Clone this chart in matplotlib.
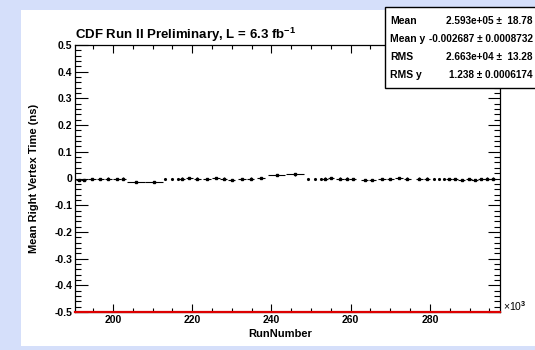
import matplotlib
matplotlib.use("Agg")
import matplotlib.pyplot as plt
from matplotlib.patches import Rectangle
from matplotlib.ticker import MultipleLocator

plt.rcParams['font.family'] = 'Liberation Sans'
plt.rcParams['font.weight'] = 'bold'
plt.rcParams['axes.unicode_minus'] = False
plt.rcParams['mathtext.fontset'] = 'custom'
plt.rcParams['mathtext.rm'] = 'Liberation Sans:bold'
plt.rcParams['mathtext.default'] = 'rm'

# run number in units of 1000, mean vertex time in ns, bin half width
run_k = [191.3, 192.6, 194.7, 196.8, 198.8, 201.0, 202.6, 205.8, 210.3,
         217.3, 219.3, 221.3, 223.8, 226.0, 228.0, 230.0, 232.5, 234.8,
         237.3, 241.3, 246.0, 253.5, 255.0, 257.3, 259.0, 260.5, 263.5,
         265.5, 268.0, 270.0, 272.3, 274.3, 277.3, 279.3, 284.8, 286.3,
         288.0, 289.8, 291.3, 293.0, 294.3, 296.0]
mean_ns = [-0.004, -0.005, -0.003, -0.002, 0.000, -0.003, 0.000, -0.012, -0.012,
           0.000, 0.002, 0.000, -0.002, 0.003, 0.000, -0.004, -0.003, 0.000,
           0.003, 0.012, 0.015, 0.000, 0.002, 0.000, 0.000, -0.003, -0.004,
           -0.004, -0.003, -0.002, 0.003, 0.000, 0.000, 0.000, -0.003, -0.002,
           -0.004, -0.003, -0.004, -0.003, 0.000, 0.000]
half_w = [0.7, 0.6, 0.9, 0.9, 0.9, 0.9, 0.6, 2.2, 2.2,
          0.8, 0.9, 0.9, 1.0, 0.9, 0.9, 0.9, 1.0, 0.9,
          1.0, 2.2, 2.3, 0.7, 0.7, 0.9, 0.6, 0.9, 1.0,
          0.9, 1.0, 0.9, 1.0, 0.9, 0.9, 0.8, 0.8, 0.8,
          0.8, 0.8, 0.8, 0.8, 0.7, 0.8]
y_err = [0.004] * len(run_k)

dot_run = [213.0, 214.8, 216.3, 249.3, 251.0, 252.5, 281.0, 282.3, 283.5]
dot_mean = [0.0, 0.0, 0.0, 0.0, 0.0, 0.0, 0.0, 0.0, 0.0]

stat_names = ["Mean", "Mean y", "RMS", "RMS y"]
stat_values = ["2.593e+05 \u00b1  18.78", "-0.002687 \u00b1 0.0008732",
               "2.663e+04 \u00b1  13.28", "1.238 \u00b1 0.0006174"]

W, H = 535, 350
fig = plt.figure(figsize=(W / 100, H / 100), dpi=100)
fig.patch.set_facecolor('#d5dffa')
fig.patches.append(Rectangle((21 / W, (H - 346) / H), 1, 336 / H,
                             transform=fig.transFigure, facecolor='white',
                             edgecolor='none', zorder=-1))

ax = fig.add_axes([75 / W, (H - 312) / H, 425 / W, 267 / H])
ax.errorbar(run_k, mean_ns, xerr=half_w, yerr=y_err, fmt='s', color='black',
            markersize=1.8, elinewidth=0.8, capsize=0)
ax.plot(dot_run, dot_mean, '.', color='black', markersize=2.5)

ax.set_xlim(190.4, 297.7)
ax.set_ylim(-0.5, 0.5)
ax.xaxis.set_major_locator(MultipleLocator(20))
ax.xaxis.set_minor_locator(MultipleLocator(5))
ax.yaxis.set_major_locator(MultipleLocator(0.1))
ax.yaxis.set_minor_locator(MultipleLocator(0.02))
ax.set_yticks([-0.5, -0.4, -0.3, -0.2, -0.1, 0, 0.1, 0.2, 0.3, 0.4, 0.5])
ax.set_yticklabels(["-0.5", "-0.4", "-0.3", "-0.2", "-0.1", "0",
                    "0.1", "0.2", "0.3", "0.4", "0.5"])
ax.tick_params(axis='both', which='both', direction='in', top=True, right=True,
               labelsize=7.5, width=0.8, pad=2)
ax.tick_params(axis='x', which='major', length=6)
ax.tick_params(axis='x', which='minor', length=3)
ax.tick_params(axis='y', which='major', length=9)
ax.tick_params(axis='y', which='minor', length=4.5)
for s in ax.spines.values():
    s.set_linewidth(0.9)

ax.axhline(-0.5, color='#dd0000', linewidth=1.6, clip_on=False, zorder=5)

ax.set_xlabel("RunNumber", fontsize=8, fontweight='bold', labelpad=1)
ax.xaxis.set_label_coords((280 - 75) / 425, -0.065)
ax.set_ylabel("Mean Right Vertex Time (ns)", fontsize=8, fontweight='bold')
ax.yaxis.set_label_coords(-(75 - 39) / 425, 0.5)

fig.text(75 / W, (H - 44) / H, r"CDF Run II Preliminary, L = 6.3 fb$^{-1}$",
         fontsize=9.5, fontweight='bold', ha='left', va='bottom')
fig.text(503 / W, (H - 306) / H, "\u00d710$^{3}$", fontsize=7.5,
         fontweight='normal', ha='left', va='center')

# stats box
fig.patches.append(Rectangle((385 / W, (H - 88) / H), 200 / W, 81 / H,
                             transform=fig.transFigure, facecolor='white',
                             edgecolor='black', linewidth=1.0, zorder=3))
row_y = [21, 39, 57, 75]
for name, val, yy in zip(stat_names, stat_values, row_y):
    fig.text(390 / W, (H - yy) / H, name, fontsize=7.5, fontweight='bold',
             ha='left', va='center', zorder=4)
    fig.text(533 / W, (H - yy) / H, val, fontsize=7.2, fontweight='bold',
             ha='right', va='center', zorder=4)

fig.savefig("out.png", dpi=100, facecolor=fig.get_facecolor())
